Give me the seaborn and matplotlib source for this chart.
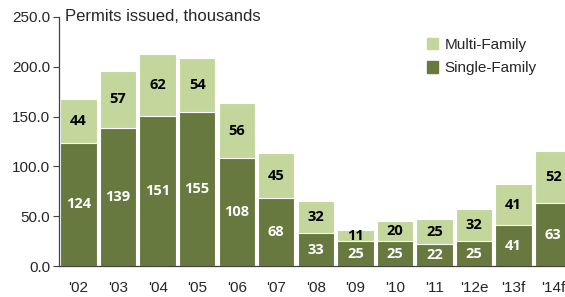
import matplotlib
matplotlib.use("Agg")
import matplotlib.pyplot as plt
import seaborn as sns
import pandas as pd
import numpy as np
from matplotlib.patches import Patch

# data
years = ["'02", "'03", "'04", "'05", "'06", "'07", "'08", "'09", "'10", "'11", "'12e", "'13f", "'14f"]
single = [124, 139, 151, 155, 108, 68, 33, 25, 25, 22, 25, 41, 63]
multi = [44, 57, 62, 54, 56, 45, 32, 11, 20, 25, 32, 41, 52]

dark = "#68793f"
light = "#c3d69b"

df = pd.DataFrame({"year": years, "single": single, "multi": multi})
df["total"] = df["single"] + df["multi"]

sns.set_theme(style="white")
plt.rcParams["font.family"] = ["Liberation Sans", "DejaVu Sans"]

fig = plt.figure(figsize=(5.65, 2.97), dpi=100)
ax = fig.add_axes([0.104, 0.104, 0.896, 0.839])

sns.barplot(data=df, x="year", y="total", color=light, saturation=1, width=0.92,
            edgecolor="white", linewidth=0.8, ax=ax)
sns.barplot(data=df, x="year", y="single", color=dark, saturation=1, width=0.92,
            edgecolor="white", linewidth=0.8, ax=ax)

lab_font = ["Open Sans", "DejaVu Sans"]
for i in range(len(years)):
    s = single[i]
    m = multi[i]
    ax.text(i, s / 2, str(s), ha="center", va="center", color="white",
            fontsize=10.5, fontweight="bold", family=lab_font)
    ax.text(i, s + m / 2, str(m), ha="center", va="center", color="black",
            fontsize=10.5, fontweight="bold", family=lab_font)

ax.set_ylim(0, 250)
ax.set_xlim(-0.5, 12.3)
ax.set_yticks(np.arange(0, 251, 50))
ax.set_yticklabels([f"{v:.1f}" for v in np.arange(0, 251, 50)], fontsize=11)
ax.tick_params(axis="y", left=True, length=4, width=0.8, color="#404040", pad=2)
ax.tick_params(axis="x", bottom=False, labelsize=11, pad=5)
ax.set_xlabel("")
ax.set_ylabel("")
for side in ["top", "right"]:
    ax.spines[side].set_visible(False)
for side in ["left", "bottom"]:
    ax.spines[side].set_color("#404040")
    ax.spines[side].set_linewidth(0.9)

ax.text(0.012, 1.0, "Permits issued, thousands", transform=ax.transAxes,
        fontsize=12, ha="left", va="center")

handles = [Patch(color=light, label="Multi-Family"), Patch(color=dark, label="Single-Family")]
ax.legend(handles=handles, loc="upper left", bbox_to_anchor=(0.7, 0.97), frameon=False,
          fontsize=11, handlelength=0.75, handleheight=0.75, handletextpad=0.4, labelspacing=0.6)

fig.savefig("out.png", dpi=100)
